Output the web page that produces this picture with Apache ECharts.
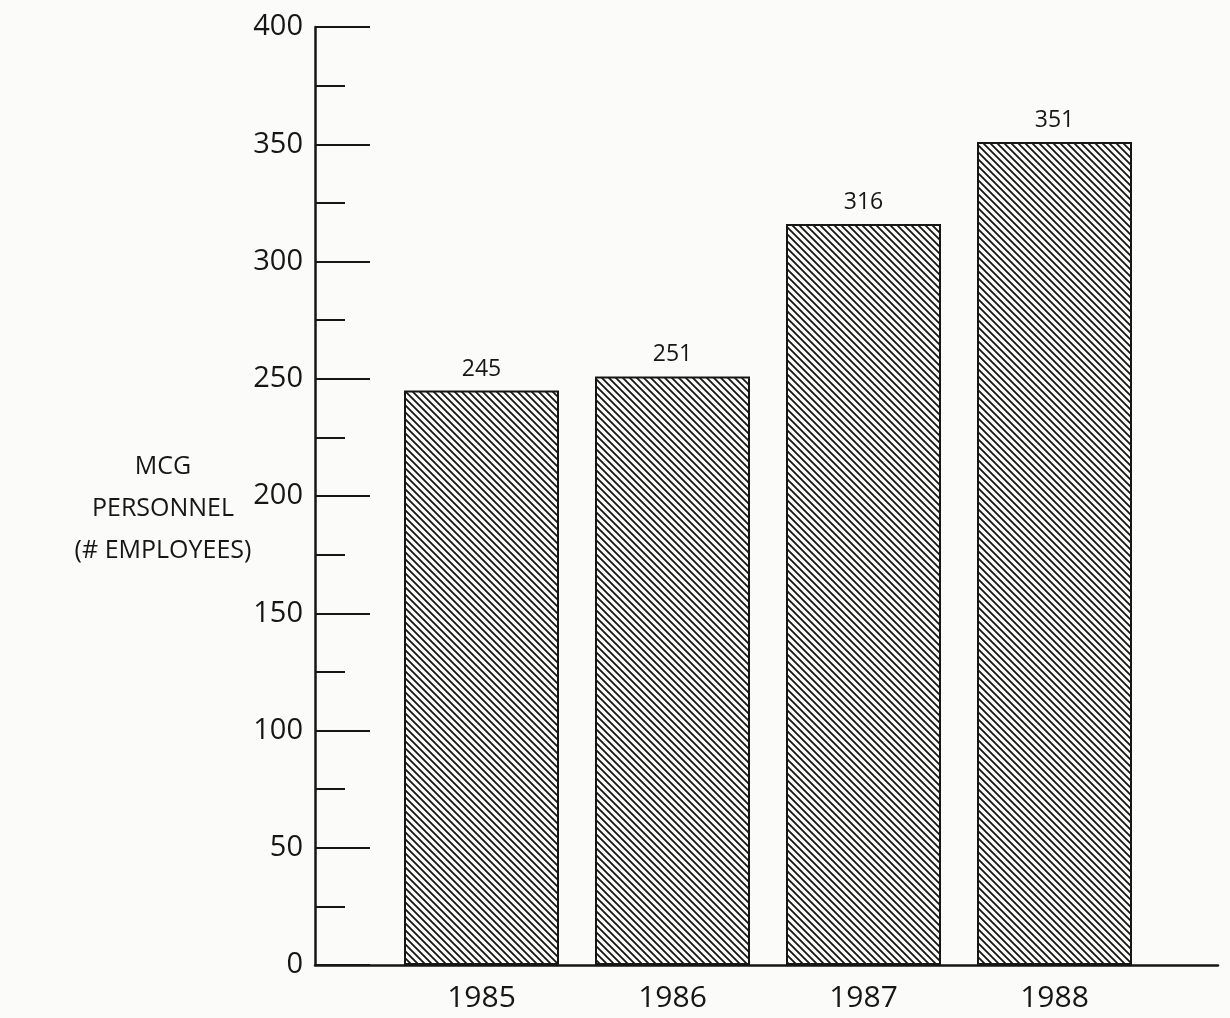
<!DOCTYPE html>
<html>
<head>
<meta charset="utf-8">
<script src="https://cdn.jsdelivr.net/npm/echarts@6/dist/echarts.min.js"></script>
<style>
  html, body { margin: 0; padding: 0; background: #fbfbfa; }
  #chart { width: 1230px; height: 1018px; }
</style>
</head>
<body>
<div id="chart"></div>
<script>
// Personnel head count per year
const years = ['1985', '1986', '1987', '1988'];
const employees = [245, 251, 316, 351];
const yAxisTitle = 'MCG\nPERSONNEL\n(# EMPLOYEES)';

const ink = '#161616';
const font = "'Open Sans', 'Noto Sans', sans-serif";
const weight = 500;

// Diagonal hatch fill for the bars
function hatchPattern() {
  const s = 7;
  const c = document.createElement('canvas');
  c.width = s; c.height = s;
  const g = c.getContext('2d');
  g.fillStyle = '#fbfbfa';
  g.fillRect(0, 0, s, s);
  g.strokeStyle = ink;
  g.lineWidth = 1.8;
  g.beginPath();
  g.moveTo(-1, -1); g.lineTo(s + 1, s + 1);
  g.moveTo(-1, s - 1); g.lineTo(1, s + 1);
  g.moveTo(s - 1, -1); g.lineTo(s + 1, 1);
  g.stroke();
  return c;
}

const chart = echarts.init(document.getElementById('chart'));
chart.setOption({
  backgroundColor: '#fbfbfa',
  animation: false,
  title: {
    text: yAxisTitle,
    left: 163, top: 446, padding: 0,
    textAlign: 'center',
    textStyle: {
      color: ink, fontFamily: font, fontWeight: weight,
      fontSize: 25, lineHeight: 42
    }
  },
  grid: [
    { left: 315, right: 12, top: 27, bottom: 53 },
    { left: 386, width: 764, top: 27, bottom: 53 }
  ],
  xAxis: [
    {
      gridIndex: 0, type: 'value', min: 0, max: 1,
      axisLine: { show: true, lineStyle: { color: ink, width: 2.5 } },
      axisTick: { show: false }, axisLabel: { show: false }, splitLine: { show: false }
    },
    {
      gridIndex: 1, type: 'category', data: years,
      axisLine: { show: false }, axisTick: { show: false },
      axisLabel: { color: ink, fontFamily: font, fontWeight: weight, fontSize: 30, margin: 18 }
    }
  ],
  yAxis: [
    {
      gridIndex: 0, type: 'value', min: 0, max: 400, interval: 50,
      axisLine: { show: true, lineStyle: { color: ink, width: 2.5 } },
      axisTick: { show: true, inside: true, length: 55, lineStyle: { color: ink, width: 2 } },
      minorTick: { show: true, splitNumber: 2, length: 30, lineStyle: { color: ink, width: 2 } },
      axisLabel: { color: ink, fontFamily: font, fontWeight: weight, fontSize: 29, margin: 12 },
      splitLine: { show: false }
    },
    {
      gridIndex: 1, type: 'value', min: 0, max: 400, show: false
    }
  ],
  series: [{
    type: 'bar',
    xAxisIndex: 1, yAxisIndex: 1,
    data: employees,
    barWidth: 155,
    itemStyle: {
      color: { image: hatchPattern(), repeat: 'repeat' },
      borderColor: ink, borderWidth: 2
    },
    label: {
      show: true, position: 'top', distance: 10,
      color: ink, fontFamily: font, fontWeight: weight, fontSize: 23
    }
  }]
});
</script>
</body>
</html>
